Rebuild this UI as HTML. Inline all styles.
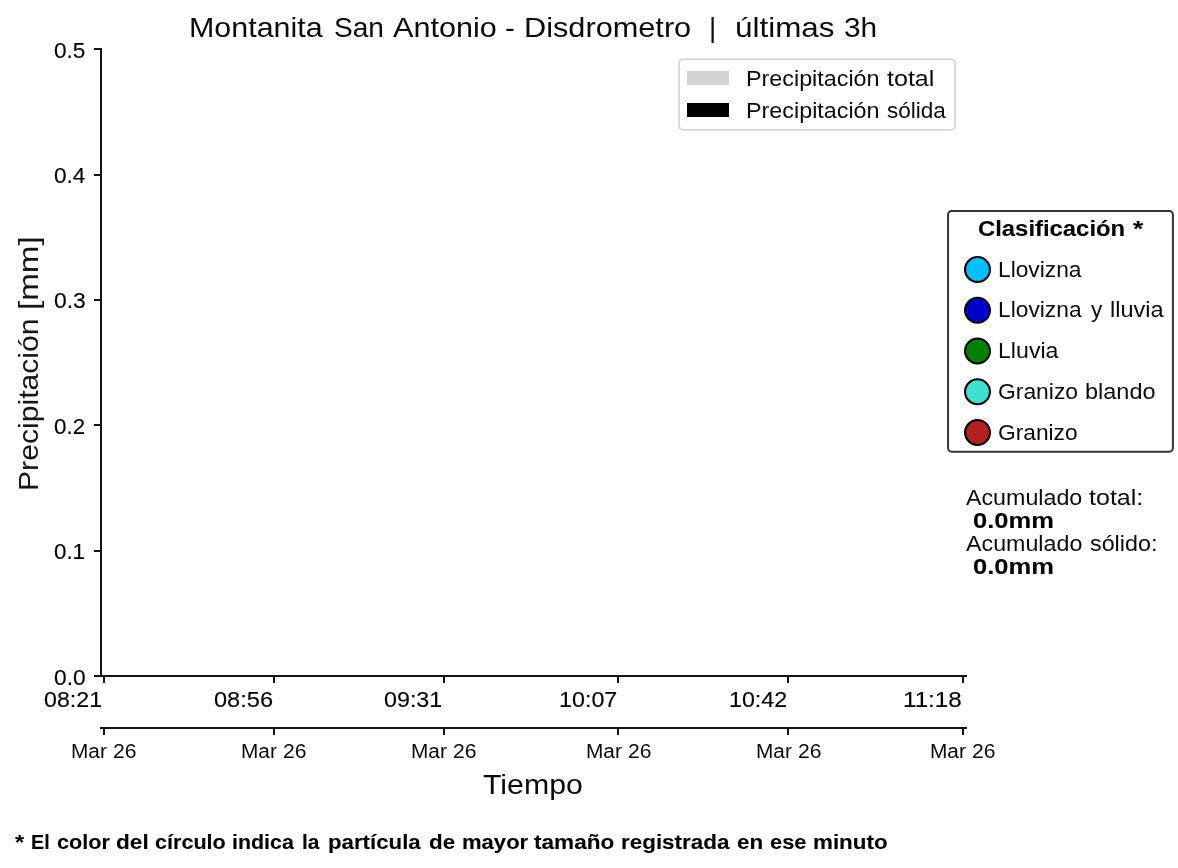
<!DOCTYPE html>
<html lang="es">
<head>
<meta charset="utf-8">
<title>Montanita San Antonio - Disdrometro</title>
<style>
html,body{margin:0;padding:0;background:#fff;}
body{width:1178px;height:868px;position:relative;overflow:hidden;font-family:"Liberation Sans",sans-serif;color:#000;}
#fig{position:absolute;left:0;top:0;width:1178px;height:868px;}
.t{will-change:transform;position:absolute;white-space:pre;line-height:1;margin:0;padding:0;width:0;height:0;transform-origin:0 0;}
.t span{position:absolute;top:0;display:block;white-space:pre;line-height:1;transform-origin:0 0;}
.r{transform:rotate(-90deg);}
.b{font-weight:bold;}
.t{color:#0b0b0b;}
.b{color:#000;}
.b span{-webkit-text-stroke:0.09px #000;}
.n{color:#000;}
.n span{-webkit-text-stroke:0.14px #000;}
.r{color:#161616;}
</style>
</head>
<body>
<svg id="fig" width="1178" height="868" viewBox="0 0 1178 868" shape-rendering="geometricPrecision">
<rect x="0" y="0" width="1178" height="868" fill="#ffffff"/>
<g fill="#141414" shape-rendering="crispEdges">
<rect x="100" y="48" width="2" height="629"/>
<rect x="100" y="675" width="867" height="2"/>
<rect x="100" y="727" width="867" height="2"/>
<rect x="94" y="675" width="7" height="2"/>
<rect x="94" y="550" width="7" height="2"/>
<rect x="94" y="424" width="7" height="2"/>
<rect x="94" y="299" width="7" height="2"/>
<rect x="94" y="174" width="7" height="2"/>
<rect x="94" y="48" width="7" height="2"/>
<rect x="103" y="675" width="2" height="8"/>
<rect x="103" y="727" width="2" height="8"/>
<rect x="273" y="675" width="2" height="8"/>
<rect x="273" y="727" width="2" height="8"/>
<rect x="443" y="675" width="2" height="8"/>
<rect x="443" y="727" width="2" height="8"/>
<rect x="617" y="675" width="2" height="8"/>
<rect x="617" y="727" width="2" height="8"/>
<rect x="787" y="675" width="2" height="8"/>
<rect x="787" y="727" width="2" height="8"/>
<rect x="962" y="675" width="2" height="8"/>
<rect x="962" y="727" width="2" height="8"/>
</g>
<rect x="679.15" y="59.15" width="275.85" height="70.7" rx="4.2" ry="4.2" fill="#fff" stroke="#d6d6d6" stroke-width="1.8"/>
<rect x="687" y="71" width="42" height="14" fill="#d3d3d3"/>
<rect x="687" y="103" width="42" height="14" fill="#000"/>
<rect x="948.07" y="210.9" width="224.83" height="240.77" rx="3.6" ry="3.6" fill="#fff" stroke="#333" stroke-width="2.0"/>
<circle cx="977.5" cy="269.46" r="12.45" fill="#00bfff" stroke="#000" stroke-width="2.08"/>
<circle cx="977.5" cy="310.22" r="12.45" fill="#0000cd" stroke="#000" stroke-width="2.08"/>
<circle cx="977.5" cy="350.98" r="12.45" fill="#008000" stroke="#000" stroke-width="2.08"/>
<circle cx="977.5" cy="391.74" r="12.45" fill="#40e0d0" stroke="#000" stroke-width="2.08"/>
<circle cx="977.5" cy="432.50" r="12.45" fill="#b22222" stroke="#000" stroke-width="2.08"/>
</svg>
<div class="t" style="left:191.30px;top:13.60px;font-size:28.00px"><span style="left:-2.51px;transform:scaleX(1.0864)">Montanita</span> <span style="left:142.65px;transform:scaleX(1.0031)">San</span> <span style="left:201.82px;transform:scaleX(1.0926)">Antonio</span> <span style="left:314.38px;transform:scaleX(1.0459)">-</span> <span style="left:332.89px;transform:scaleX(1.0964)">Disdrometro</span>  <span style="left:518.45px;transform:scaleX(0.9972)">|</span>  <span style="left:544.03px;transform:scaleX(1.1215)">últimas</span> <span style="left:653.26px;transform:scaleX(1.0651)">3h</span></div>
<div class="t r" style="left:14.60px;top:489.20px;font-size:28.00px"><span style="left:-2.49px;transform:scaleX(1.0765)">Precipitación</span> <span style="left:179.00px;transform:scaleX(1.1846)">[mm]</span></div>
<div class="t n" style="left:55.05px;top:39.67px;font-size:22.00px"><span style="left:-0.90px;transform:scaleX(1.0267)">0.5</span></div>
<div class="t n" style="left:55.05px;top:164.67px;font-size:22.00px"><span style="left:-0.90px;transform:scaleX(1.0259)">0.4</span></div>
<div class="t n" style="left:55.05px;top:289.67px;font-size:22.00px"><span style="left:-0.91px;transform:scaleX(1.0377)">0.3</span></div>
<div class="t n" style="left:55.05px;top:415.67px;font-size:22.00px"><span style="left:-0.89px;transform:scaleX(1.0157)">0.2</span></div>
<div class="t n" style="left:55.05px;top:540.67px;font-size:22.00px"><span style="left:-0.89px;transform:scaleX(1.0148)">0.1</span></div>
<div class="t n" style="left:55.05px;top:666.67px;font-size:22.00px"><span style="left:-0.91px;transform:scaleX(1.0352)">0.0</span></div>
<div class="t n" style="left:45.10px;top:688.67px;font-size:22.00px"><span style="left:-0.93px;transform:scaleX(1.0540)">08:21</span></div>
<div class="t n" style="left:214.90px;top:688.67px;font-size:22.00px"><span style="left:-0.94px;transform:scaleX(1.0725)">08:56</span></div>
<div class="t n" style="left:384.90px;top:688.67px;font-size:22.00px"><span style="left:-0.93px;transform:scaleX(1.0578)">09:31</span></div>
<div class="t n" style="left:560.80px;top:688.67px;font-size:22.00px"><span style="left:-1.75px;transform:scaleX(1.0592)">10:07</span></div>
<div class="t n" style="left:730.80px;top:688.67px;font-size:22.00px"><span style="left:-1.74px;transform:scaleX(1.0573)">10:42</span></div>
<div class="t n" style="left:904.80px;top:688.67px;font-size:22.00px"><span style="left:-1.81px;transform:scaleX(1.1000)">11:18</span></div>
<div class="t" style="left:72.60px;top:741.37px;font-size:20.00px"><span style="left:-1.72px;transform:scaleX(1.0402)">Mar</span> <span style="left:40.11px;transform:scaleX(1.0557)">26</span></div>
<div class="t" style="left:242.60px;top:741.37px;font-size:20.00px"><span style="left:-1.72px;transform:scaleX(1.0402)">Mar</span> <span style="left:40.11px;transform:scaleX(1.0557)">26</span></div>
<div class="t" style="left:412.60px;top:741.37px;font-size:20.00px"><span style="left:-1.72px;transform:scaleX(1.0402)">Mar</span> <span style="left:40.11px;transform:scaleX(1.0557)">26</span></div>
<div class="t" style="left:587.60px;top:741.37px;font-size:20.00px"><span style="left:-1.72px;transform:scaleX(1.0402)">Mar</span> <span style="left:40.11px;transform:scaleX(1.0557)">26</span></div>
<div class="t" style="left:757.60px;top:741.37px;font-size:20.00px"><span style="left:-1.72px;transform:scaleX(1.0402)">Mar</span> <span style="left:40.11px;transform:scaleX(1.0557)">26</span></div>
<div class="t" style="left:931.60px;top:741.37px;font-size:20.00px"><span style="left:-1.72px;transform:scaleX(1.0402)">Mar</span> <span style="left:40.11px;transform:scaleX(1.0557)">26</span></div>
<div class="t" style="left:483.90px;top:770.60px;font-size:28.00px"><span style="left:-0.68px;transform:scaleX(1.0808)">Tiempo</span></div>
<div class="t" style="left:747.85px;top:67.67px;font-size:22.00px"><span style="left:-1.92px;transform:scaleX(1.0603)">Precipitación</span> <span style="left:138.75px;transform:scaleX(1.1393)">total</span></div>
<div class="t" style="left:747.85px;top:99.67px;font-size:22.00px"><span style="left:-1.92px;transform:scaleX(1.0605)">Precipitación</span> <span style="left:139.10px;transform:scaleX(1.0246)">sólida</span></div>
<div class="t b" style="left:979.00px;top:217.67px;font-size:22.00px"><span style="left:-0.95px;transform:scaleX(1.0843)">Clasificación</span> <span style="left:154.02px;transform:scaleX(1.1941)">*</span></div>
<div class="t" style="left:999.90px;top:258.67px;font-size:22.00px"><span style="left:-1.88px;transform:scaleX(1.0339)">Llovizna</span></div>
<div class="t" style="left:999.90px;top:298.67px;font-size:22.00px"><span style="left:-1.88px;transform:scaleX(1.0351)">Llovizna</span> <span style="left:90.82px;transform:scaleX(1.0243)">y</span> <span style="left:109.70px;transform:scaleX(1.0705)">lluvia</span></div>
<div class="t" style="left:999.90px;top:339.67px;font-size:22.00px"><span style="left:-1.91px;transform:scaleX(1.0518)">Lluvia</span></div>
<div class="t" style="left:999.00px;top:380.67px;font-size:22.00px"><span style="left:-1.14px;transform:scaleX(1.0388)">Granizo</span> <span style="left:86.05px;transform:scaleX(1.0671)">blando</span></div>
<div class="t" style="left:999.00px;top:421.67px;font-size:22.00px"><span style="left:-1.14px;transform:scaleX(1.0331)">Granizo</span></div>
<div class="t" style="left:966.30px;top:486.67px;font-size:22.00px"><span style="left:-0.06px;transform:scaleX(1.0564)">Acumulado</span> <span style="left:123.25px;transform:scaleX(1.1388)">total:</span></div>
<div class="t b" style="left:973.80px;top:509.67px;font-size:22.00px"><span style="left:-1.02px;transform:scaleX(1.1617)">0.0mm</span></div>
<div class="t" style="left:966.30px;top:532.67px;font-size:22.00px"><span style="left:-0.06px;transform:scaleX(1.0570)">Acumulado</span> <span style="left:123.63px;transform:scaleX(1.0596)">sólido:</span></div>
<div class="t b" style="left:973.80px;top:555.67px;font-size:22.00px"><span style="left:-1.02px;transform:scaleX(1.1617)">0.0mm</span></div>
<div class="t b" style="left:14.90px;top:832.37px;font-size:20.00px"><span style="left:-0.06px;transform:scaleX(1.1767)">*</span> <span style="left:16.39px;transform:scaleX(0.9883)">El</span> <span style="left:41.72px;transform:scaleX(1.0833)">color</span> <span style="left:100.89px;transform:scaleX(1.1323)">del</span> <span style="left:140.04px;transform:scaleX(1.0790)">círculo</span> <span style="left:217.36px;transform:scaleX(1.0702)">indica</span> <span style="left:287.42px;transform:scaleX(1.0456)">la</span> <span style="left:313.08px;transform:scaleX(1.1119)">partícula</span> <span style="left:413.86px;transform:scaleX(1.1172)">de</span> <span style="left:446.74px;transform:scaleX(1.1027)">mayor</span> <span style="left:519.18px;transform:scaleX(1.1291)">tamaño</span> <span style="left:606.01px;transform:scaleX(1.1207)">registrada</span> <span style="left:722.43px;transform:scaleX(1.1196)">en</span> <span style="left:755.09px;transform:scaleX(1.0949)">ese</span> <span style="left:798.45px;transform:scaleX(1.1191)">minuto</span></div>
</body>
</html>
